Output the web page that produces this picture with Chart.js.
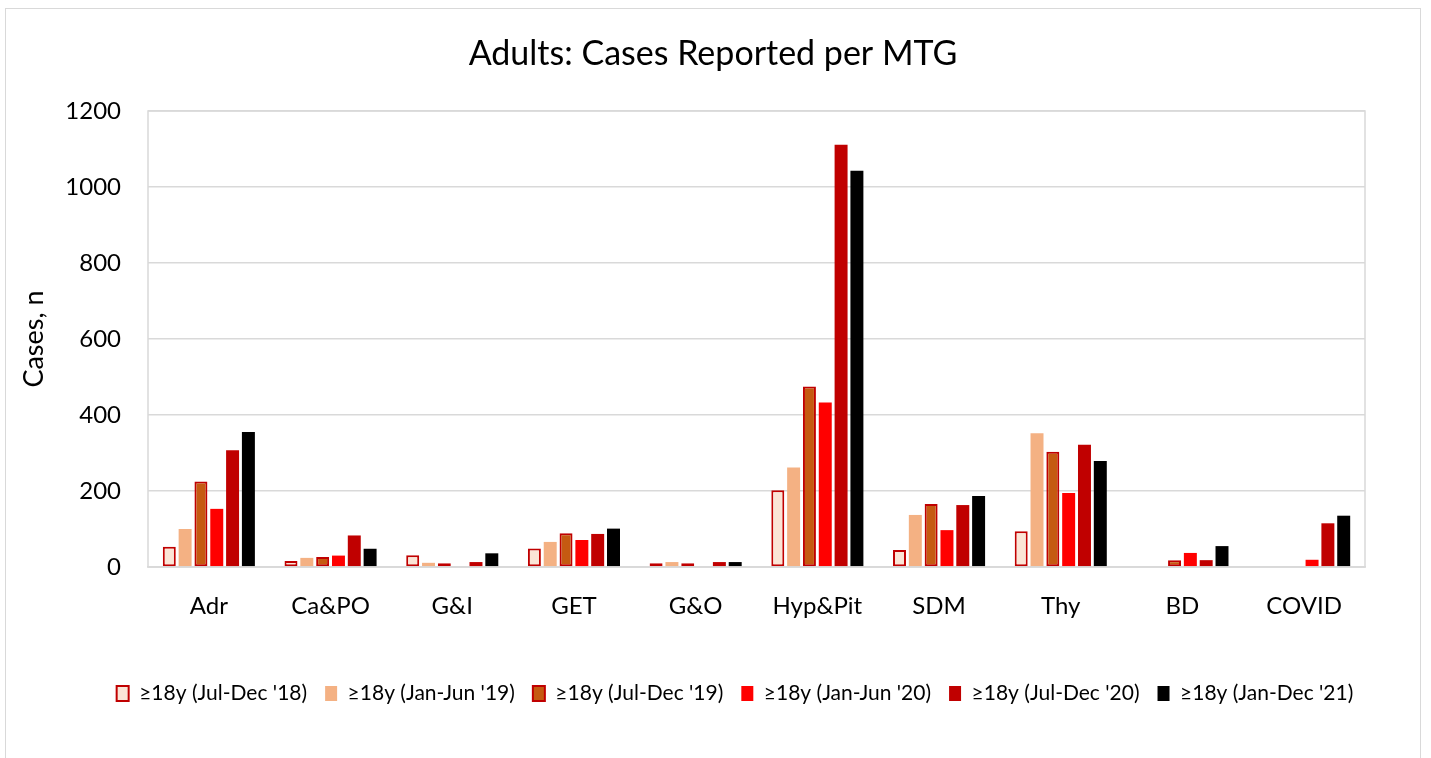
<!DOCTYPE html>
<html>
<head>
<meta charset="utf-8">
<script src="https://cdn.jsdelivr.net/npm/chart.js@4/dist/chart.umd.min.js"></script>
<style>
  body { margin: 0; background: #fff; }
  #wrap {
    position: absolute; left: 5px; top: 8px;
    width: 1416px; height: 751px;
    box-sizing: border-box; border: 1px solid #d9d9d9;
  }
</style>
</head>
<body>
<div id="wrap"><canvas id="myChart"></canvas></div>
<script>
'use strict'

var categories = ['Adr', 'Ca&PO', 'G&I', 'GET', 'G&O', 'Hyp&Pit', 'SDM', 'Thy', 'BD', 'COVID'];
var yTicks = [0, 200, 400, 600, 800, 1000, 1200];

// one array per reporting period
var julDec18 = [53, 16, 31, 49, 10, 202, 45, 94, 0, 0];
var janJun19 = [100, 24, 11, 66, 13, 262, 137, 352, 0, 0];
var julDec19 = [225, 26, 10, 89, 10, 475, 166, 303, 18, 0];
var janJun20 = [153, 30, 0, 71, 0, 433, 97, 195, 37, 19];
var julDec20 = [307, 83, 13, 87, 13, 1111, 163, 322, 18, 115];
var janDec21 = [355, 48, 36, 101, 13, 1043, 187, 279, 55, 135];

var font = 'Lato, "Open Sans", sans-serif';

// frame round the plot area, like the excel chart
var plotBorder = {
    id: 'plotBorder',
    afterLayout: function (chart) {
        // legend sits a bit right of centre in the original
        chart.legend.left += 44;
    },
    afterDraw: function (chart) {
        var a = chart.chartArea;
        var c = chart.ctx;
        c.save();
        c.strokeStyle = '#d9d9d9';
        c.lineWidth = 1.5;
        c.strokeRect(a.left, a.top, a.right - a.left, a.bottom - a.top);
        c.restore();
    }
};

var ctx = document.getElementById('myChart').getContext('2d');

var chart = new Chart(ctx, {
    type: 'bar',
    data: {
        labels: categories,
        datasets: [{
                label: "\u226518y (Jul-Dec '18)",
                data: julDec18,
                backgroundColor: '#FBE5D6',
                borderColor: '#C00000',
                borderWidth: 2,
                borderSkipped: false,
        },
            {
                label: "\u226518y (Jan-Jun '19)",
                data: janJun19,
                backgroundColor: '#F4B183',
                borderColor: '#F4B183',
                borderWidth: 0,
        },
            {
                label: "\u226518y (Jul-Dec '19)",
                data: julDec19,
                backgroundColor: '#C55A11',
                borderColor: '#C00000',
                borderWidth: 2,
                borderSkipped: false,
        },
            {
                label: "\u226518y (Jan-Jun '20)",
                data: janJun20,
                backgroundColor: '#FF0000',
                borderColor: '#FF0000',
                borderWidth: 0,
        },
            {
                label: "\u226518y (Jul-Dec '20)",
                data: julDec20,
                backgroundColor: '#C00000',
                borderColor: '#C00000',
                borderWidth: 0,
        },
            {
                label: "\u226518y (Jan-Dec '21)",
                data: janDec21,
                backgroundColor: '#000000',
                borderColor: '#000000',
                borderWidth: 0,
        }]
    },
    options: {
        responsive: true,
        maintainAspectRatio: false,
        animation: false,
        datasets: {
            bar: {
                categoryPercentage: 0.78,
                barPercentage: 0.82,
            }
        },
        layout: {
            padding: { left: 0, right: 0, top: 0, bottom: 44 }
        },
        plugins: {
            title: {
                display: true,
                text: 'Adults: Cases Reported per MTG',
                color: '#000',
                font: { family: font, size: 34, weight: 'normal' },
                padding: { top: 24.5, bottom: 36.7 },
            },
            legend: {
                position: 'bottom',
                labels: {
                    color: '#000',
                    font: { family: font, size: 21 },
                    boxWidth: 12,
                    boxHeight: 15,
                    padding: 18,
                }
            },
            tooltip: { enabled: false },
        },
        scales: {
            x: {
                grid: { display: false },
                border: { display: true, color: '#d9d9d9', width: 1.5 },
                ticks: {
                    color: '#000',
                    font: { family: font, size: 24 },
                    padding: 17,
                    maxRotation: 0,
                },
                afterFit: function (scale) {
                    scale.height = 98;
                },
            },
            y: {
                min: 0,
                max: 1200,
                afterBuildTicks: function (scale) {
                    scale.ticks = yTicks.map(function (v) { return { value: v }; });
                },
                grid: { color: '#d9d9d9', lineWidth: 1.5, drawTicks: false },
                border: { display: false },
                ticks: {
                    color: '#000',
                    font: { family: font, size: 24 },
                    padding: 27,
                    callback: function (v) { return String(v); },
                },
                title: {
                    display: true,
                    text: 'Cases, n',
                    color: '#000',
                    font: { family: font, size: 27 },
                    padding: { top: 12, bottom: 0 },
                },
                afterFit: function (scale) {
                    scale.width = 142;
                },
            },
            // empty axis, only keeps the right margin of the plot
            spacer: {
                axis: 'y',
                position: 'right',
                grid: { display: false },
                border: { display: false },
                ticks: { display: false },
                afterFit: function (scale) {
                    scale.width = 55;
                },
            }
        }
    },
    plugins: [plotBorder]
});
</script>
</body>
</html>
